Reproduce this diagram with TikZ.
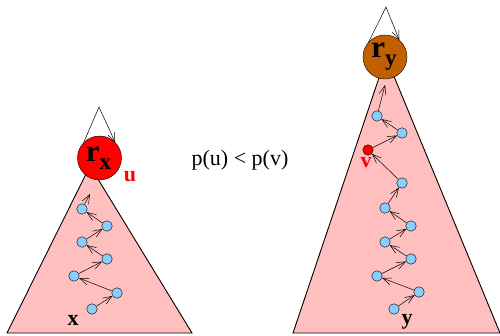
\documentclass[tikz,border=0pt]{standalone}
\usepackage{fontspec}
\setmainfont{Liberation Serif}
\usetikzlibrary{arrows.meta}
\definecolor{treepink}{RGB}{255,191,191}
\definecolor{dotblue}{RGB}{135,206,250}
\definecolor{rootbrown}{RGB}{192,96,0}

\begin{document}
\begin{tikzpicture}[x=1pt, y=-1pt,
        dot/.style={circle, draw, fill=dotblue, inner sep=0pt, minimum size=10.5pt},
        root/.style={circle, draw, inner sep=0pt, minimum size=44pt, font=\bfseries\fontsize{31}{31}\selectfont},
        link/.style={-{Straight Barb[length=9pt,width=7pt]}, line width=0.5pt},
        tree/.style={draw, fill=treepink, line width=0.9pt},
        lbl/.style={font=\bfseries\fontsize{22}{22}\selectfont}]
        \useasboundingbox (0,0) rectangle (500,335);

        % Strom x
        \draw[tree] (7,333) -- (90,166) -- (192,333) -- cycle;
        \node[root, fill=red] (rx) at (99.5,158) {\hspace{-2pt}r\raisebox{-8pt}{\fontsize{23}{23}\selectfont x}};
        \coordinate (rxloop) at (99,107);
        \draw[link] (rx.135) -- (rxloop) -- (rx.45);
        \node[lbl, red] (u) at (130,177) {u};

        % Cesta od x ke koreni
        \node[dot] (a1) at (92,309) {};
        \node[dot] (a2) at (117,293) {};
        \node[dot] (a3) at (74,276) {};
        \node[dot] (a4) at (107,259) {};
        \node[dot] (a5) at (82,242) {};
        \node[dot] (a6) at (107,226) {};
        \node[dot] (a7) at (82,209) {};
        \coordinate (atop) at (90,194);
        \draw[link] (a1) -- (a2);
        \draw[link] (a2) -- (a3);
        \draw[link] (a3) -- (a4);
        \draw[link] (a4) -- (a5);
        \draw[link] (a5) -- (a6);
        \draw[link] (a6) -- (a7);
        \draw[link] (a7) -- (atop);
        \node[lbl] (x) at (73,320) {x};

        % Podminka
        \node[font=\fontsize{22}{22}\selectfont] (cond) at (240,160) {p(u) < p(v)};

        % Strom y
        \draw[tree] (293,333) -- (386,57) -- (500,333) -- cycle;
        \node[root, fill=rootbrown] (ry) at (385,57) {\hspace{-2pt}r\raisebox{-8pt}{\fontsize{23}{23}\selectfont y}};
        \coordinate (ryloop) at (386,7);
        \draw[link] (ry.138) -- (ryloop) -- (ry.50);

        % Cesta od y ke koreni
        \node[dot] (b1) at (394,309) {};
        \node[dot] (b2) at (419,292) {};
        \node[dot] (b3) at (377,276) {};
        \node[dot] (b4) at (411,259) {};
        \node[dot] (b5) at (385,242) {};
        \node[dot] (b6) at (411,226) {};
        \node[dot] (b7) at (385,208) {};
        \node[dot] (b8) at (402,183) {};
        \node[dot, fill=red] (v) at (368,150) {};
        \node[dot] (b10) at (402,133) {};
        \node[dot] (b11) at (377,116) {};
        \coordinate (btop) at (385,85);
        \draw[link] (b1) -- (b2);
        \draw[link] (b2) -- (b3);
        \draw[link] (b3) -- (b4);
        \draw[link] (b4) -- (b5);
        \draw[link] (b5) -- (b6);
        \draw[link] (b6) -- (b7);
        \draw[link] (b7) -- (b8);
        \draw[link] (b8) -- (v);
        \draw[link] (v) -- (b10);
        \draw[link] (b10) -- (b11);
        \draw[link] (b11) -- (btop);
        \node[lbl, red] (vlbl) at (366,163) {v};
        \node[lbl] (y) at (407,322) {y};
\end{tikzpicture}
\end{document}
